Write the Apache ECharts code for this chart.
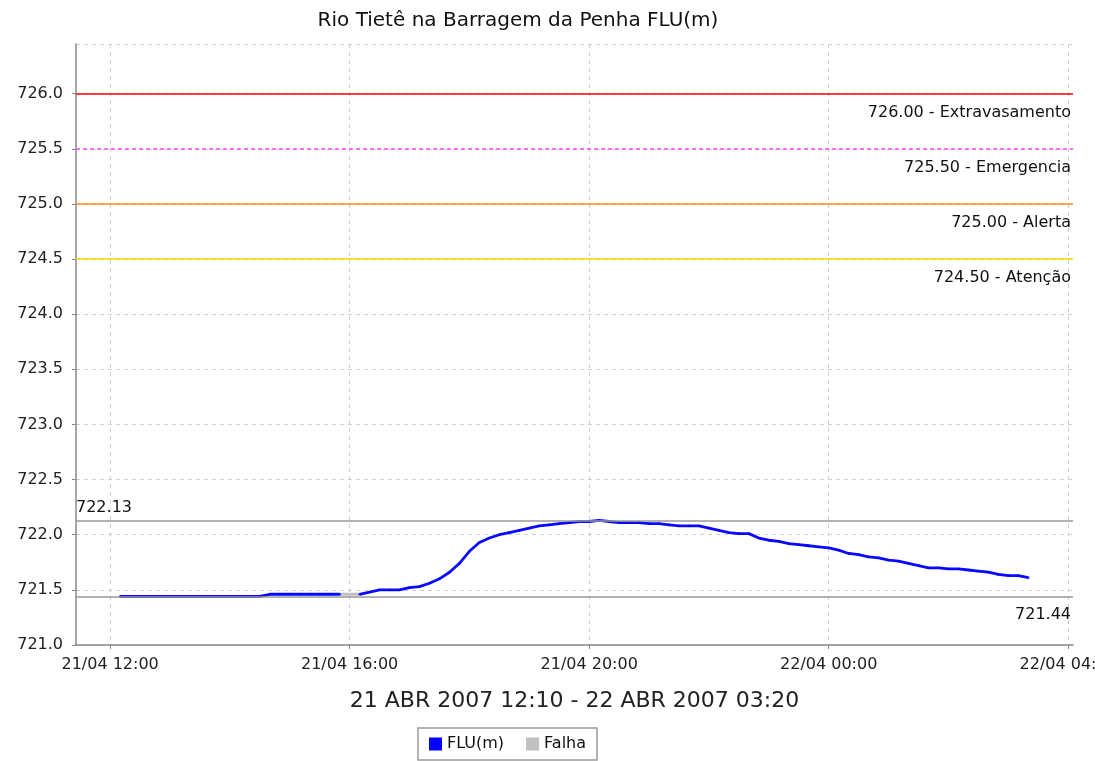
<!DOCTYPE html>
<html><head><meta charset="utf-8">
<script src="https://cdn.jsdelivr.net/npm/echarts@6/dist/echarts.min.js"></script>
<style>html,body{margin:0;padding:0;background:#fff}#c{width:1095px;height:761px}</style>
</head><body><div id="c"></div>
<script>
// ---- data (times on 21/04 -> 22/04 2007) ----
const fluTimes = ["12:10","12:20","12:30","12:40","12:50","13:00","13:10","13:20","13:30","13:40","13:50","14:00","14:10","14:20","14:30","14:40","14:50","15:00","15:10","15:20","15:30","15:40","15:50","16:00","16:10","16:20","16:30","16:40","16:50","17:00","17:10","17:20","17:30","17:40","17:50","18:00","18:10","18:20","18:30","18:40","18:50","19:00","19:10","19:20","19:30","19:40","19:50","20:00","20:10","20:20","20:30","20:40","20:50","21:00","21:10","21:20","21:30","21:40","21:50","22:00","22:10","22:20","22:30","22:40","22:50","23:00","23:10","23:20","23:30","23:40","23:50","00:00","00:10","00:20","00:30","00:40","00:50","01:00","01:10","01:20","01:30","01:40","01:50","02:00","02:10","02:20","02:30","02:40","02:50","03:00","03:10","03:20"];
const fluValues = [721.44,721.44,721.44,721.44,721.44,721.44,721.44,721.44,721.44,721.44,721.44,721.44,721.44,721.44,721.44,721.46,721.46,721.46,721.46,721.46,721.46,721.46,721.46,null,721.46,721.48,721.50,721.50,721.50,721.52,721.53,721.56,721.60,721.66,721.74,721.85,721.93,721.97,722.00,722.02,722.04,722.06,722.08,722.09,722.10,722.11,722.12,722.12,722.13,722.12,722.11,722.11,722.11,722.10,722.10,722.09,722.08,722.08,722.08,722.06,722.04,722.02,722.01,722.01,721.97,721.95,721.94,721.92,721.91,721.90,721.89,721.88,721.86,721.83,721.82,721.80,721.79,721.77,721.76,721.74,721.72,721.70,721.70,721.69,721.69,721.68,721.67,721.66,721.64,721.63,721.63,721.61];
const falhaTimes = ["15:50","16:00","16:10"];
const falhaValues = [721.46,721.46,721.46];
const xTickHours = [12,16,20,24,28];
const xTickLabels = ["21/04 12:00","21/04 16:00","21/04 20:00","22/04 00:00","22/04 04:00"];
const thresholdValues = [726.00,725.50,725.00,724.50];
const thresholdNames = ["Extravasamento","Emergencia","Alerta","Atenção"];
const maxValue = 722.13;
const minValue = 721.44;
const titleText = "Rio Tietê na Barragem da Penha FLU(m)";
const periodText = "21 ABR 2007 12:10 - 22 ABR 2007 03:20";

// convert "HH:MM" to hours since 21/04 00:00 (times before noon belong to next day)
function toHours(t){const [h,m]=t.split(":").map(Number);let v=h+m/60;if(h<12)v+=24;return v;}
const fluData = fluTimes.map((t,i)=>[toHours(t),fluValues[i]]);
const falhaData = falhaTimes.map((t,i)=>[toHours(t),falhaValues[i]]);

const FONT = "DejaVu Sans";
const thColors = ["#ff0000","#ff44ff","#ff8c1a","#ffd700"];
const thTypes = ["solid",[4,3],"solid","solid"];

const chart = echarts.init(document.getElementById('c'),null,{renderer:'canvas'});
chart.setOption({
  animation:false,
  backgroundColor:'#ffffff',
  textStyle:{fontFamily:FONT},
  title:{text:titleText,left:513,top:6,textAlign:'center',
    textStyle:{fontFamily:FONT,fontSize:20,fontWeight:'normal',color:'#111'}},
  legend:{data:['FLU(m)','Falha'],left:418,top:728,orient:'horizontal',
    icon:'rect',itemWidth:13,itemHeight:13,itemGap:22,
    borderColor:'#999',borderWidth:1.5,padding:[8,11],
    textStyle:{fontFamily:FONT,fontSize:16,color:'#111'}},
  grid:{left:76,right:22,top:44,bottom:116,containLabel:false,outerBoundsMode:'none'},
  xAxis:{type:'value',min:11.43,max:28.08,
    name:periodText,nameLocation:'middle',nameGap:45,
    nameTextStyle:{fontFamily:FONT,fontSize:22,color:'#222'},
    axisLine:{show:true,lineStyle:{color:'#888',width:1.5}},
    axisTick:{show:true,customValues:xTickHours,length:4,lineStyle:{color:'#888'}},
    axisLabel:{customValues:xTickHours,fontFamily:FONT,fontSize:16,color:'#222',margin:12,
      formatter:(v)=>xTickLabels[xTickHours.indexOf(Math.round(v))]||''},
    splitLine:{show:true,lineStyle:{color:'#d0d0d0',type:[4,4],width:1}}},
  yAxis:{type:'value',min:721,max:726.45,interval:0.5,
    axisLine:{show:true,lineStyle:{color:'#888',width:1.5}},
    axisTick:{show:true,length:4,inside:false,lineStyle:{color:'#888'}},
    axisLabel:{showMaxLabel:false,fontFamily:FONT,fontSize:16,color:'#222',margin:13,
      formatter:(v)=>v.toFixed(1)},
    splitLine:{show:true,lineStyle:{color:'#d0d0d0',type:[4,4],width:1}}},
  series:[
    {name:'FLU(m)',type:'line',data:fluData,connectNulls:false,
     showSymbol:true,symbol:'rect',symbolSize:2,
     itemStyle:{color:'#0000ff'},lineStyle:{color:'#0a0aff',width:2.8},
     markLine:{silent:true,symbol:'none',animation:false,
       data:[
         ...thresholdValues.map((v,i)=>({yAxis:v,
            lineStyle:{color:thColors[i],type:thTypes[i],width:1.5},
            label:{show:true,position:'insideEndBottom',distance:[2,11],
              formatter:v.toFixed(2)+' - '+thresholdNames[i],
              fontFamily:FONT,fontSize:16,color:'#111'}})),
         {yAxis:maxValue,lineStyle:{color:'#999',type:'solid',width:1.5},
          label:{show:true,position:'insideStartTop',distance:[0,5],formatter:maxValue.toFixed(2),
            fontFamily:FONT,fontSize:16,color:'#111'}},
         {yAxis:minValue,lineStyle:{color:'#999',type:'solid',width:1.5},
          label:{show:true,position:'insideEndBottom',distance:[2,10],formatter:minValue.toFixed(2),
            fontFamily:FONT,fontSize:16,color:'#111'}}
       ]}},
    {name:'Falha',type:'line',data:falhaData,showSymbol:false,
     itemStyle:{color:'#c0c0c0'},lineStyle:{color:'#c0c0c0',width:2.8}}
  ]
});
</script></body></html>
